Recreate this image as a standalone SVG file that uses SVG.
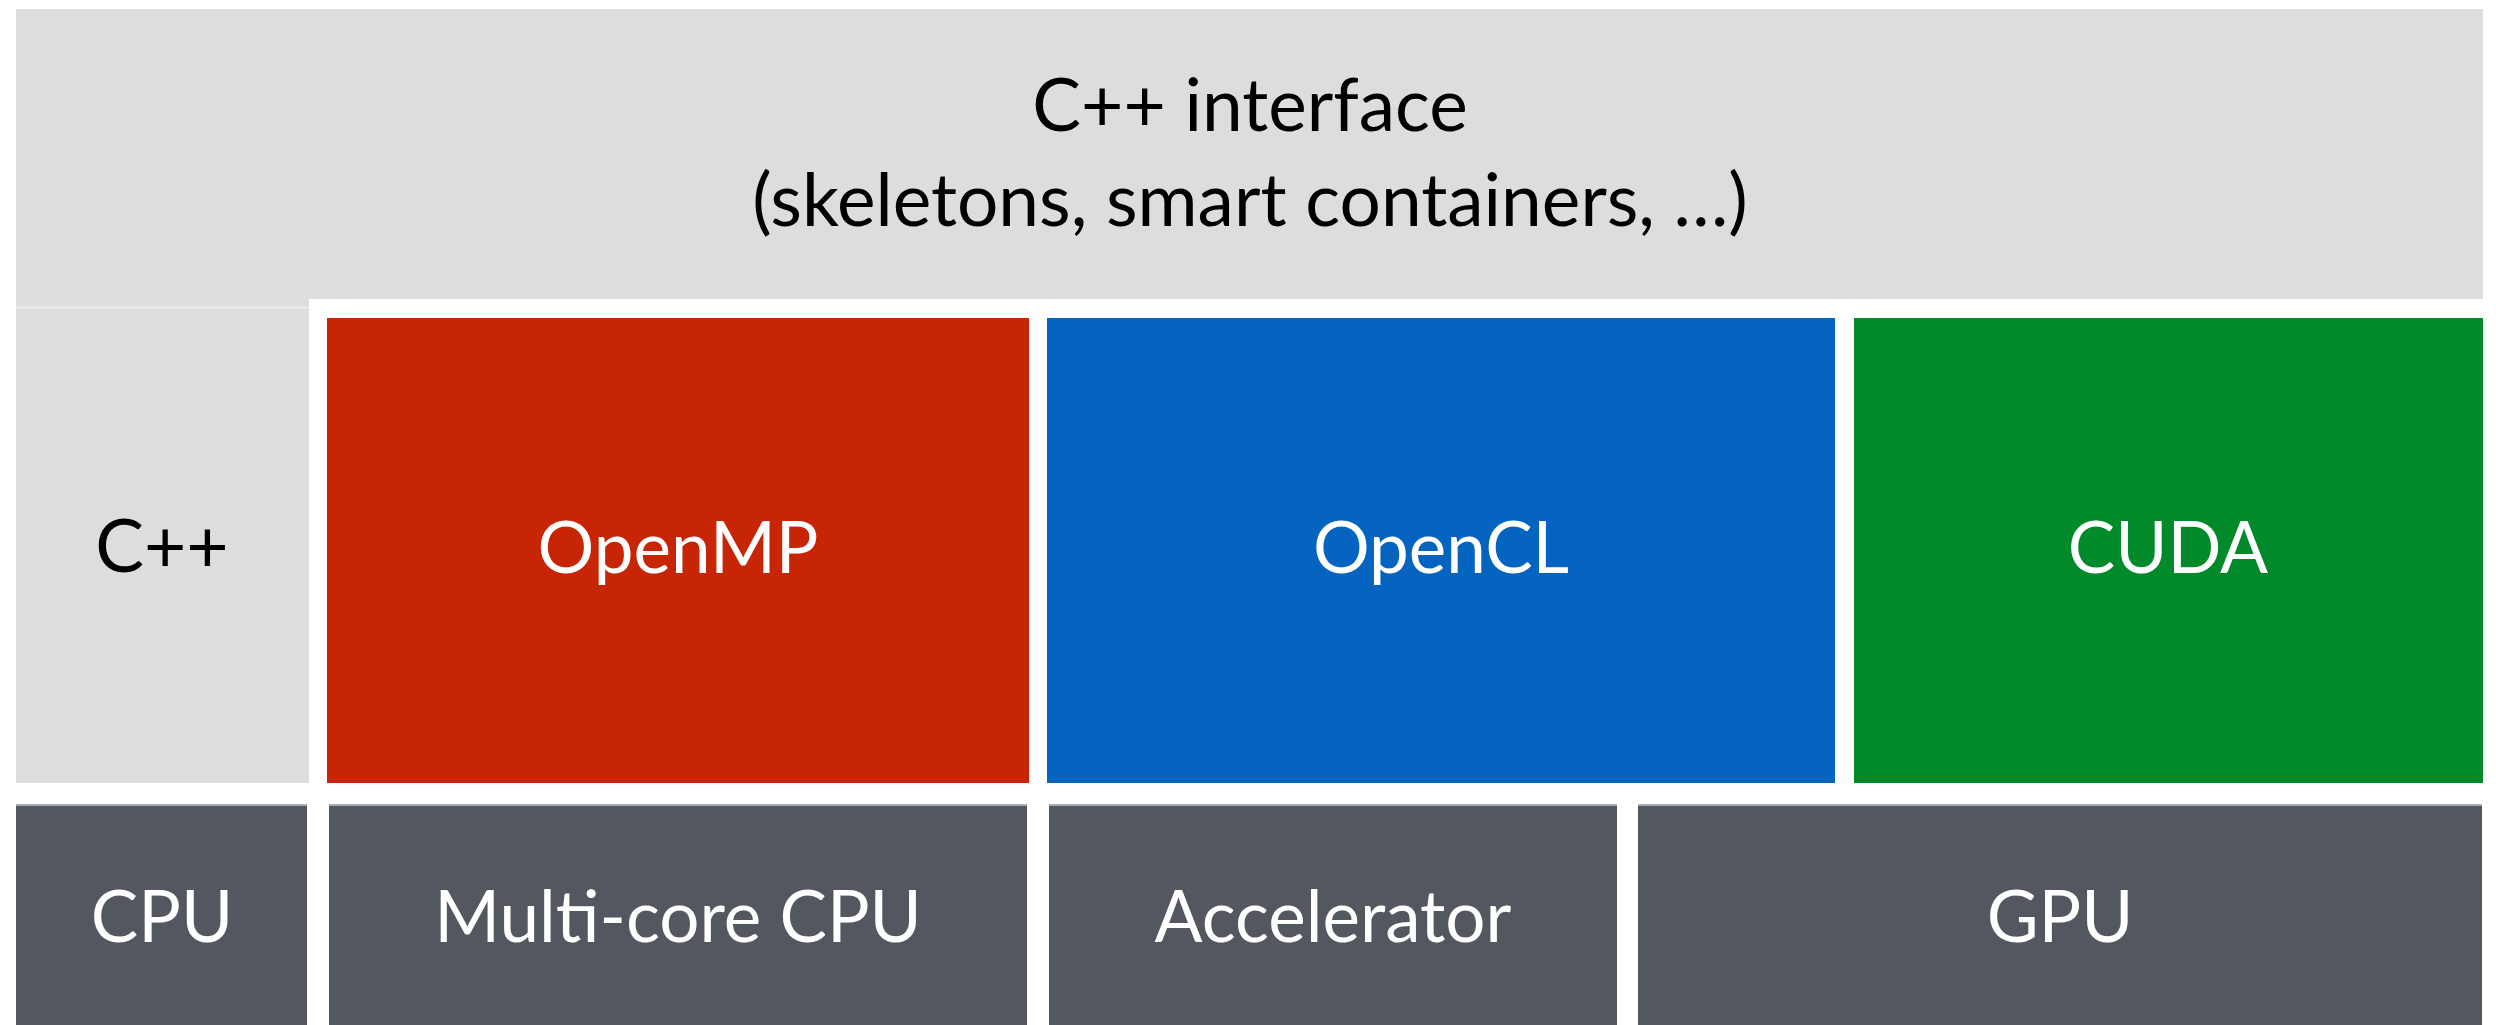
<svg xmlns="http://www.w3.org/2000/svg" width="2496" height="1025" viewBox="0 0 2496 1025">
<style>
.lbl{font-family:Lato,"Open Sans","Liberation Sans",sans-serif;font-size:73px;text-anchor:middle}
.sm{font-size:71px}
.dark{fill:#000}
.light{fill:#fff}
.gray{fill:#DCDDDF}
.hw{fill:#53575F}
.hwtop{stroke:#A9ACB0;stroke-width:2}
</style>
<rect width="2496" height="1025" fill="#fff"/>
<g id="cpp-interface">
<rect class="gray" x="16" y="9" width="2467" height="290"/>
<text class="lbl dark" x="1250" y="131">C++ interface</text>
<text class="lbl dark" x="1250" y="226">(skeletons, smart containers, …)</text>
</g>
<g id="cpp">
<rect class="gray" x="16" y="299" width="293" height="484"/>
<line x1="16" y1="307.5" x2="309" y2="307.5" stroke="#ECEDEE" stroke-width="2"/>
<text class="lbl dark" x="162" y="572">C++</text>
</g>
<g id="openmp">
<rect x="327" y="318" width="702" height="465" fill="#C82506"/>
<text class="lbl sm light" x="678" y="573">OpenMP</text>
</g>
<g id="opencl">
<rect x="1047" y="318" width="788" height="465" fill="#0464C0"/>
<text class="lbl sm light" x="1441" y="573">OpenCL</text>
</g>
<g id="cuda">
<rect x="1854" y="318" width="629" height="465" fill="#028A2A"/>
<text class="lbl sm light" x="2168" y="573">CUDA</text>
</g>
<g id="cpu">
<rect class="hw" x="16" y="804" width="291" height="221"/>
<line class="hwtop" x1="16" y1="805" x2="307" y2="805"/>
<text class="lbl sm light" x="162" y="942">CPU</text>
</g>
<g id="multicore">
<rect class="hw" x="329" y="804" width="698" height="221"/>
<line class="hwtop" x1="329" y1="805" x2="1027" y2="805"/>
<text class="lbl sm light" x="678" y="942">Multi-core CPU</text>
</g>
<g id="accelerator">
<rect class="hw" x="1049" y="804" width="568" height="221"/>
<line class="hwtop" x1="1049" y1="805" x2="1617" y2="805"/>
<text class="lbl sm light" x="1333" y="942">Accelerator</text>
</g>
<g id="gpu">
<rect class="hw" x="1638" y="804" width="844" height="221"/>
<line class="hwtop" x1="1638" y1="805" x2="2482" y2="805"/>
<text class="lbl sm light" x="2060" y="942">GPU</text>
</g>
<g id="connectors"></g>
</svg>
